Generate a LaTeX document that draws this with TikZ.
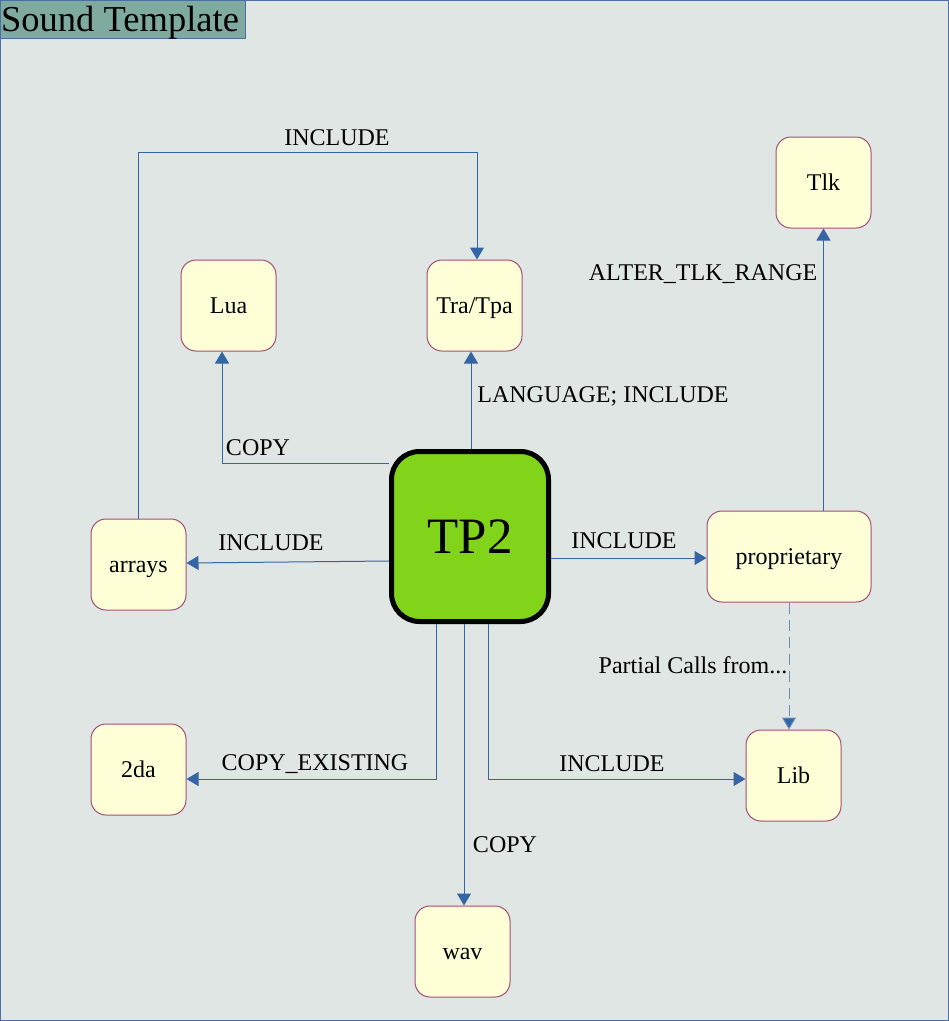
\documentclass[tikz,border=0pt]{standalone}
\usepackage{fontspec}
\setmainfont{Liberation Serif}
\usetikzlibrary{arrows.meta}
\definecolor{bgcol}{RGB}{223,230,227}
\definecolor{titlecol}{RGB}{127,170,160}
\definecolor{framecol}{RGB}{74,111,165}
\definecolor{conncol}{RGB}{52,101,164}
\definecolor{dashcol}{RGB}{104,140,190}
\definecolor{boxfill}{RGB}{255,255,215}
\definecolor{boxborder}{RGB}{166,77,121}
\definecolor{tpgreen}{RGB}{129,212,26}
\tikzset{
  box/.style={draw=boxborder, fill=boxfill, line width=1pt, rounded corners=15pt,
    minimum width=95pt, minimum height=91pt, inner sep=0pt,
    text height=15pt, text depth=0pt,
    font=\fontsize{24}{28}\selectfont},
  bigbox/.style={draw=black, fill=tpgreen, line width=5pt, rounded corners=28pt,
    minimum width=157pt, minimum height=170pt, inner sep=0pt,
    font=\fontsize{51}{60}\selectfont},
  conn/.style={draw=conncol, line width=1pt, -{Triangle[width=14pt,length=12pt,fill=conncol]}},
  lbl/.style={inner sep=0pt, font=\fontsize{24}{28}\selectfont},
}
\begin{document}
\begin{tikzpicture}[x=1pt,y=-1pt]
\useasboundingbox (0,0) rectangle (949,1021);
\path[fill=bgcol, draw=framecol, line width=1pt] (0.5,0.5) rectangle (948.5,1020.5);
\path[fill=titlecol, draw=framecol, line width=1pt] (0.5,0.5) rectangle (245,38);
\node[anchor=base west, inner sep=0pt, font=\fontsize{36.5}{40}\selectfont] (title) at (1,31) {Sound Template};

\node[box] (lua) at (228.5,305.5) {Lua};
\node[box] (tra) at (474.5,305.5) {Tra/Tpa};
\node[box] (tlk) at (823.5,182.5) {Tlk};
\node[box] (arrays) at (138.5,564.5) {arrays};
\node[box, minimum width=164pt] (prop) at (789,556.5) {proprietary};
\node[box] (twoda) at (138.5,769.5) {2da};
\node[box] (lib) at (793.5,775.5) {Lib};
\node[box] (wav) at (462.5,951.5) {wav};
\node[bigbox] (tp2) at (470,536.5) {TP2};

\draw[conn] ([yshift=73.5pt]tp2.west) -| ([xshift=-6.5pt]lua.south);
\draw[conn] ([xshift=1pt]tp2.north) -- ([xshift=-3.5pt]tra.south);
\draw[conn] (arrays.north) -- ++(0,-366) -| ([xshift=2.5pt]tra.north);
\draw[conn] ([yshift=-24.5pt]tp2.west) -- ([yshift=1.5pt]arrays.east);
\draw[conn] ([yshift=-21.5pt]tp2.east) -- ([yshift=-1.5pt]prop.west);
\draw[conn] ([xshift=34.5pt]prop.north) -- (tlk.south);
\draw[conn, draw=dashcol, dash pattern=on 11pt off 6pt] (prop.south) -- ([xshift=-4.5pt]lib.north);
\draw[conn] ([xshift=-34pt]tp2.south) |- ([yshift=-9.5pt]twoda.east);
\draw[conn] ([xshift=18pt]tp2.south) |- ([yshift=-3.5pt]lib.west);
\draw[conn] ([xshift=-6pt]tp2.south) -- ([xshift=1.5pt]wav.north);

\node[lbl] (l1) at (337,138) {INCLUDE};
\node[lbl] (l2) at (258,448) {COPY};
\node[lbl] (l3) at (603,396) {LANGUAGE; INCLUDE};
\node[lbl] (l4) at (703,274) {ALTER\_TLK\_RANGE};
\node[lbl] (l5) at (271,543) {INCLUDE};
\node[lbl] (l6) at (624,541) {INCLUDE};
\node[lbl] (l7) at (693,665) {Partial Calls from...};
\node[lbl] (l8) at (315,764) {COPY\_EXISTING};
\node[lbl] (l9) at (612,764) {INCLUDE};
\node[lbl] (l10) at (505,845) {COPY};
\end{tikzpicture}
\end{document}
